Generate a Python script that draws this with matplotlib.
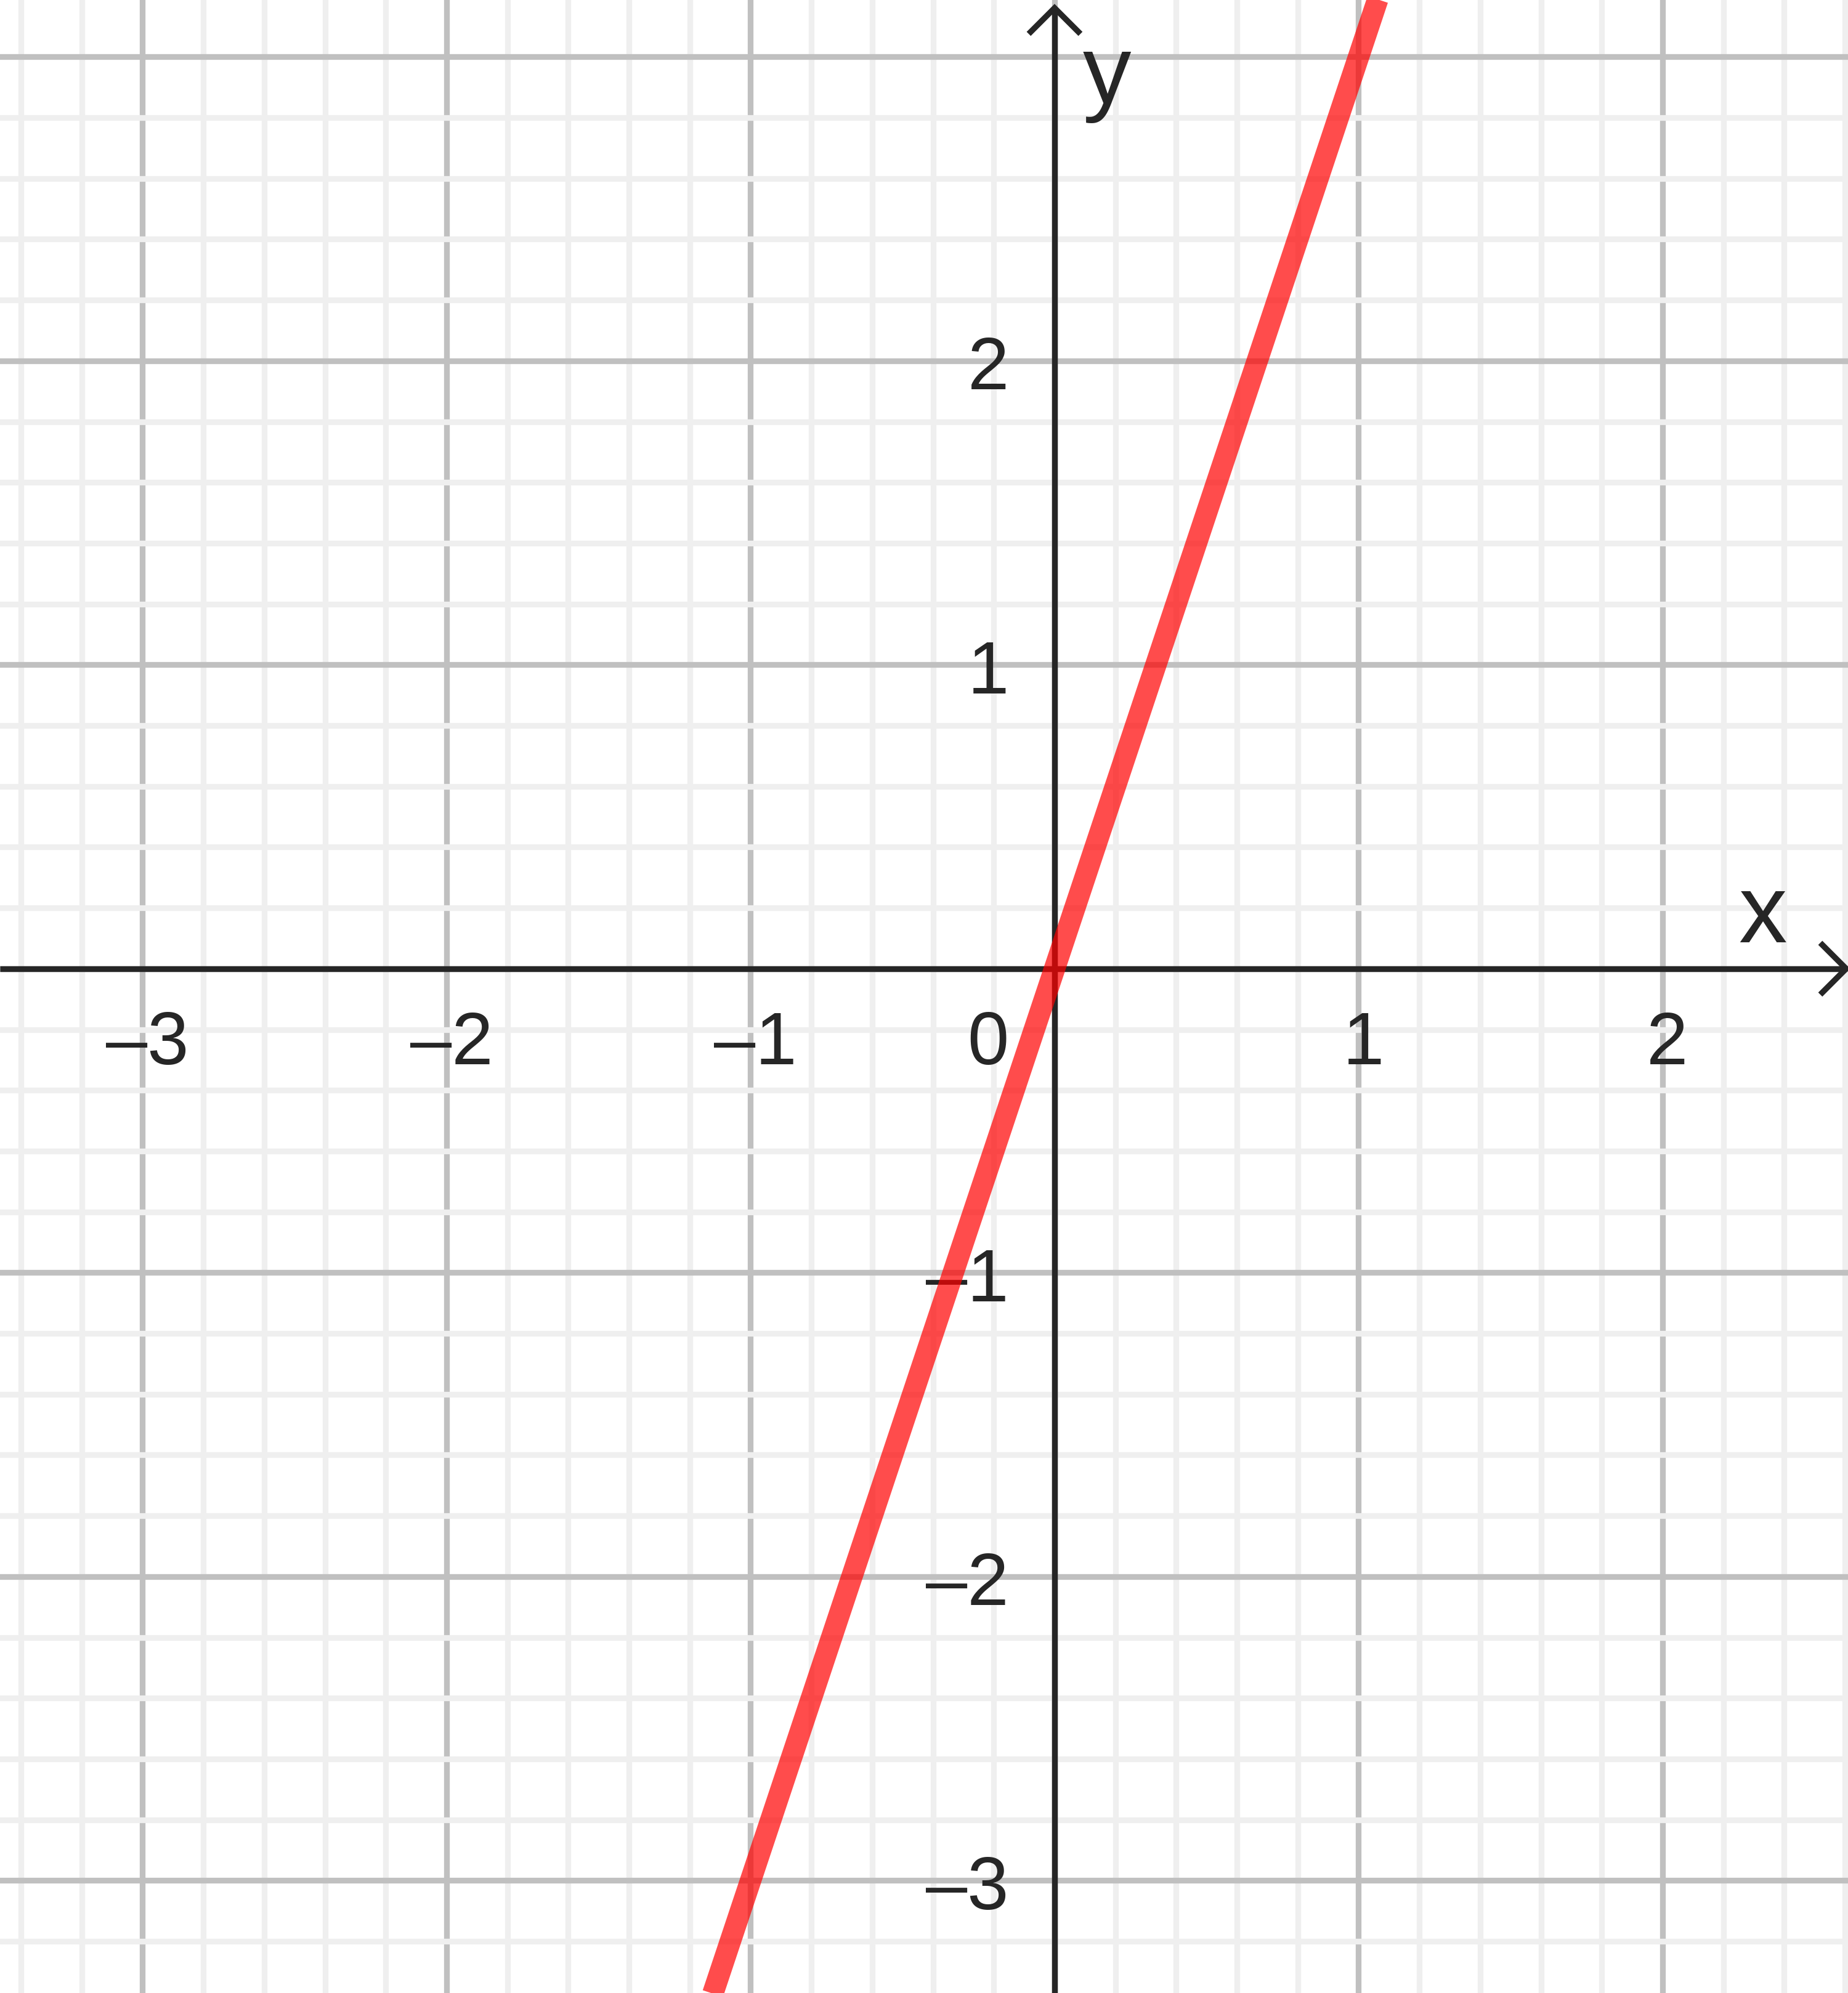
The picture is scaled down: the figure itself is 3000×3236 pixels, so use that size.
import numpy as np
import matplotlib
matplotlib.use("Agg")
import matplotlib.pyplot as plt
from matplotlib.ticker import MultipleLocator

plt.rcParams["font.family"] = ["Liberation Sans", "DejaVu Sans"]

INK = "#262626"
MAJOR = "#c0c0c0"
MINOR = "#efefef"
RED = "#ff0000"

# view window (data units)
XLIM = (-3.469, 2.610)
YLIM = (-3.370, 3.187)

# the plotted line y = 3x, read at two points
LINE_X = [-1.2, 1.1]
LINE_Y = [-3.6, 3.3]

X_LABELS = [-3, -2, -1, 1, 2]
Y_LABELS = [-3, -2, -1, 1, 2]


def lab(v):
    # the reference uses a long dash for the minus sign
    return f"\u2013{abs(v)}" if v < 0 else str(v)


fig = plt.figure(figsize=(30, 32.36), dpi=100)
ax = fig.add_axes([0, 0, 1, 1])
ax.set_xlim(*XLIM)
ax.set_ylim(*YLIM)
for s in ax.spines.values():
    s.set_visible(False)

ax.xaxis.set_major_locator(MultipleLocator(1))
ax.yaxis.set_major_locator(MultipleLocator(1))
ax.xaxis.set_minor_locator(MultipleLocator(0.2))
ax.yaxis.set_minor_locator(MultipleLocator(0.2))
ax.tick_params(which="both", length=0, labelbottom=False, labelleft=False)
ax.grid(which="minor", color=MINOR, lw=6.7)
ax.grid(which="major", color=MAJOR, lw=6.7)
ax.set_axisbelow(True)

# axes with open arrowheads
px = (XLIM[1] - XLIM[0]) / 3000.0
ax_tip = XLIM[0] + 2997 * px
ay_tip = YLIM[1] - 13 * px
d = 42 * px
ax.plot([XLIM[0], ax_tip], [0, 0], color=INK, lw=6.8, solid_capstyle="butt", zorder=3)
ax.plot([0, 0], [YLIM[0], ay_tip], color=INK, lw=6.8, solid_capstyle="butt", zorder=3)
ax.plot([ax_tip - d, ax_tip, ax_tip - d], [d, 0, -d], color=INK, lw=6.8,
        solid_joinstyle="miter", solid_capstyle="butt", zorder=3)
ax.plot([-d, 0, d], [ay_tip - d, ay_tip, ay_tip - d], color=INK, lw=6.8,
        solid_joinstyle="miter", solid_capstyle="butt", zorder=3)

fs = 87
for v in X_LABELS:
    ax.text(v + 8 * px, -0.314, lab(v), ha="center", va="baseline", fontsize=fs,
            color=INK, zorder=4)
for v in Y_LABELS:
    ax.text(-0.15, v - 0.094, lab(v), ha="right", va="baseline", fontsize=fs,
            color=INK, zorder=4)
ax.text(-0.15, -0.314, "0", ha="right", va="baseline", fontsize=fs, color=INK, zorder=4)

ax.text(2.33, 0.087, "x", ha="center", va="baseline", fontsize=113, color=INK, zorder=4)
ax.text(0.172, 2.849, "y", ha="center", va="baseline", fontsize=113, color=INK, zorder=4)

ax.plot(LINE_X, LINE_Y, color=RED, alpha=0.7, lw=25, solid_capstyle="butt", zorder=5)

fig.savefig("out.png", dpi=100, facecolor="white")
